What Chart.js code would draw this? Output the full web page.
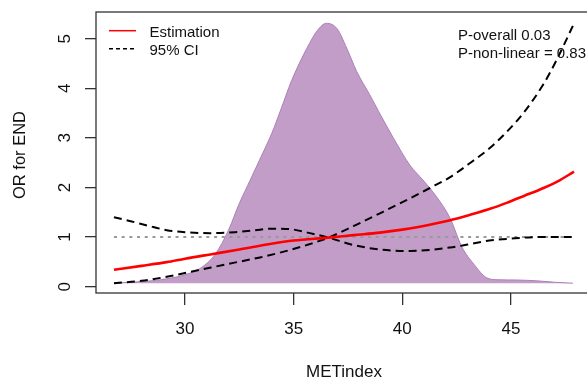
<!DOCTYPE html>
<html lang="en">

<head>
  <meta charset="UTF-8" />
  <title>OR for END by METindex</title>
  <script src="https://cdn.jsdelivr.net/npm/chart.js"></script>
  <style>
    html, body { margin: 0; padding: 0; overflow: hidden; background: #fff; }
    #wrap { position: relative; width: 594px; height: 379px; }
  </style>
</head>

<body>
  <div id="wrap">
    <canvas id="splineChart"></canvas>
  </div>

  <script>
    // density of METindex (scaled onto the OR axis)
    const densX = [26.73, 27.5, 28.5, 29.3, 30.0, 30.7, 31.4, 32.0, 32.5, 33.0, 33.5, 34.0, 34.4, 34.9, 35.6, 36.1, 36.5, 37.0, 37.44, 37.9, 38.5, 39.0, 39.6, 40.35, 40.95, 41.58, 42.2, 42.73, 43.3, 43.88, 44.4, 45.26, 46.3, 47.0, 47.85];
    const densY = [0.07, 0.09, 0.12, 0.17, 0.24, 0.37, 0.66, 1.14, 1.68, 2.15, 2.62, 3.1, 3.56, 4.15, 4.8, 5.17, 5.31, 5.2, 4.81, 4.34, 3.87, 3.46, 2.99, 2.45, 2.15, 1.81, 1.38, 0.81, 0.45, 0.18, 0.14, 0.135, 0.115, 0.09, 0.07];
    const densBase = 0.07;

    // estimated OR
    const estX = [26.73, 28, 29.16, 30, 31.29, 32.5, 33.91, 35.0, 36.6, 37.75, 38.97, 40.0, 40.8, 42.2, 43.2, 44.04, 44.8, 45.6, 46.5, 47.26, 47.9];
    const estY = [0.34, 0.42, 0.495, 0.565, 0.66, 0.75, 0.86, 0.93, 0.99, 1.04, 1.09, 1.15, 1.21, 1.34, 1.46, 1.57, 1.69, 1.83, 1.99, 2.15, 2.32];

    // 95% CI, the two dashed curves (they cross near 36.6)
    const ciAX = [26.73, 27.5, 28.3, 29.16, 30.0, 31.15, 32.3, 33.45, 33.91, 34.83, 35.75, 36.6, 37.75, 38.97, 40.35, 42.2, 43.0, 44.0, 45.0, 46.3, 47.86];
    const ciAY = [1.40, 1.32, 1.23, 1.14, 1.10, 1.08, 1.10, 1.15, 1.17, 1.16, 1.08, 0.99, 0.84, 0.75, 0.72, 0.79, 0.85, 0.93, 0.97, 1.0, 1.0];
    const ciBX = [26.73, 28.0, 29.16, 30.69, 32.22, 33.45, 34.83, 35.75, 36.6, 37.75, 38.97, 40.35, 41.27, 42.2, 43.2, 44.04, 44.8, 45.57, 46.49, 47.1, 47.87];
    const ciBY = [0.07, 0.12, 0.2, 0.34, 0.48, 0.59, 0.74, 0.86, 0.99, 1.22, 1.48, 1.78, 1.99, 2.21, 2.52, 2.8, 3.12, 3.5, 4.08, 4.57, 5.28];

    // reference line OR = 1
    const refX = [26.73, 47.9];
    const refY = [1, 1];

    const xTicks = [30, 35, 40, 45];
    const yTicks = [0, 1, 2, 3, 4, 5];

    const toPoints = (xs, ys) => xs.map((x, i) => ({ x: x, y: ys[i] }));
    const FONT = '"Liberation Sans", Arial, sans-serif';

    // box, tick labels, axis titles, legend and p-values in R style
    const rStyle = {
      id: 'rStyle',
      afterDraw(chart) {
        const ctx = chart.ctx;
        const a = chart.chartArea;
        const xs = chart.scales.x;
        const ys = chart.scales.y;
        ctx.save();
        ctx.strokeStyle = '#333';
        ctx.lineWidth = 1.3;
        ctx.strokeRect(a.left, a.top, a.right - a.left, a.bottom - a.top);

        ctx.fillStyle = '#111';
        ctx.font = '17px ' + FONT;
        ctx.textAlign = 'center';
        ctx.textBaseline = 'alphabetic';
        xTicks.forEach(v => ctx.fillText(String(v), xs.getPixelForValue(v), 334));
        yTicks.forEach(v => {
          ctx.save();
          ctx.translate(70, ys.getPixelForValue(v));
          ctx.rotate(-Math.PI / 2);
          ctx.fillText(String(v), 0, 0);
          ctx.restore();
        });

        ctx.fillText('METindex', 344, 377);
        ctx.save();
        ctx.font = '16.5px ' + FONT;
        ctx.translate(25, 155);
        ctx.rotate(-Math.PI / 2);
        ctx.fillText('OR for END', 0, 0);
        ctx.restore();

        // legend
        ctx.font = '15px ' + FONT;
        ctx.textAlign = 'left';
        ctx.strokeStyle = '#ff0000';
        ctx.lineWidth = 1.5;
        ctx.beginPath();
        ctx.moveTo(109, 30.7);
        ctx.lineTo(136, 30.7);
        ctx.stroke();
        ctx.fillText('Estimation', 149.5, 37);
        ctx.strokeStyle = '#000';
        ctx.setLineDash([4, 3]);
        ctx.beginPath();
        ctx.moveTo(109, 48.7);
        ctx.lineTo(136, 48.7);
        ctx.stroke();
        ctx.setLineDash([]);
        ctx.fillText('95% CI', 149.5, 54.5);

        ctx.fillText('P-overall 0.03', 458, 39.5);
        ctx.fillText('P-non-linear = 0.83', 458, 58);
        ctx.restore();
      }
    };

    const lineBase = {
      showLine: true,
      pointRadius: 0,
      cubicInterpolationMode: 'monotone'
    };

    new Chart(document.getElementById('splineChart'), {
      type: 'scatter',
      data: {
        datasets: [
          {
            ...lineBase,
            label: 'Estimation',
            data: toPoints(estX, estY),
            borderColor: '#ff0000',
            borderWidth: 2.6,
            order: 1
          },
          {
            ...lineBase,
            label: '95% CI',
            data: toPoints(ciAX, ciAY),
            borderColor: '#000',
            borderWidth: 2,
            borderDash: [8, 5],
            order: 2
          },
          {
            ...lineBase,
            label: '95% CI upper',
            data: toPoints(ciBX, ciBY),
            borderColor: '#000',
            borderWidth: 2,
            borderDash: [8, 5],
            order: 2
          },
          {
            ...lineBase,
            label: 'OR = 1',
            data: toPoints(refX, refY),
            borderColor: '#999',
            borderWidth: 2,
            borderDash: [3, 4.7],
            order: 3
          },
          {
            ...lineBase,
            label: 'Density',
            data: toPoints(densX, densY),
            borderColor: 'rgb(172, 128, 184)',
            borderWidth: 1,
            backgroundColor: 'rgb(194, 157, 200)',
            fill: { value: densBase },
            order: 4
          }
        ]
      },
      options: {
        responsive: true,
        maintainAspectRatio: false,
        animation: false,
        layout: { padding: { top: 12, right: 0, left: 0, bottom: 0 } },
        plugins: {
          legend: { display: false },
          tooltip: { enabled: false }
        },
        scales: {
          x: {
            type: 'linear',
            min: 25.904,
            max: 48.82,
            afterFit: s => { s.height = 86; },
            border: { display: false },
            grid: { drawOnChartArea: false, tickLength: 12, color: '#333', lineWidth: 1.3 },
            ticks: { stepSize: 5, includeBounds: false, display: false }
          },
          y: {
            type: 'linear',
            min: -0.127,
            max: 5.538,
            afterFit: s => { s.width = 96; },
            border: { display: false },
            grid: { drawOnChartArea: false, tickLength: 11, color: '#333', lineWidth: 1.3 },
            ticks: { stepSize: 1, includeBounds: false, display: false }
          }
        }
      },
      plugins: [rStyle]
    });
  </script>
</body>

</html>
